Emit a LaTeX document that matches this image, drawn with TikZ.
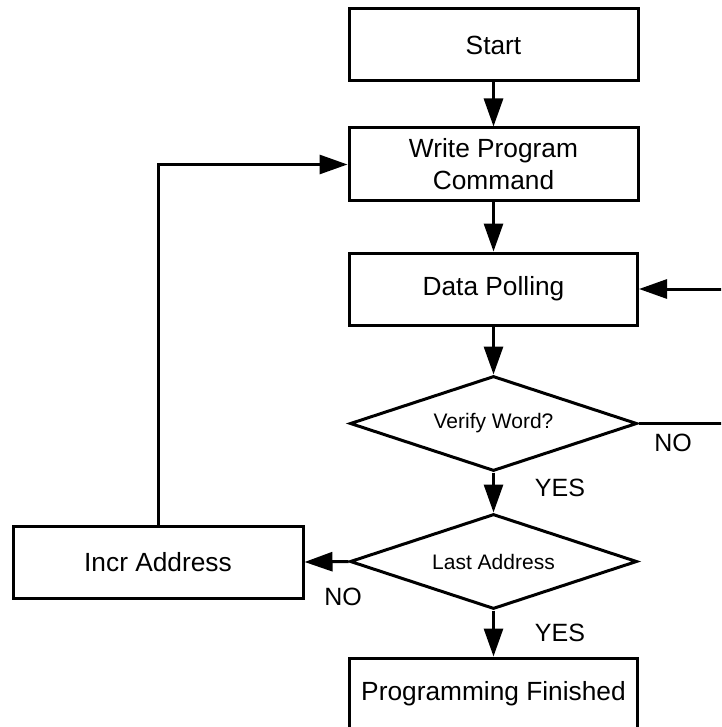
\documentclass[tikz,border=0pt]{standalone}
\usepackage{fontspec}
\setmainfont{Liberation Sans}
\usetikzlibrary{shapes.geometric,arrows.meta}
\begin{document}
\begin{tikzpicture}[x=1pt,y=-1pt,
  box/.style={draw,line width=3pt,rectangle,inner sep=0pt,font=\fontsize{26.3}{32}\selectfont,align=center},
  dia/.style={draw,line width=3pt,diamond,aspect=3,inner sep=0pt,minimum width=287pt,minimum height=95pt,font=\fontsize{21}{24}\selectfont},
  lbl/.style={font=\fontsize{25}{28}\selectfont,inner sep=0pt},
  conn/.style={line width=3pt,-{Triangle[length=28pt,width=19pt]}},
  plain/.style={line width=3pt}]
\useasboundingbox (0,0) rectangle (721,727);
\clip (0,0) rectangle (721,727);
\node[box,minimum width=289pt,minimum height=72pt] (start) at (493.5,45) {Start};
\node[box,minimum width=289pt,minimum height=73pt] (write) at (493.5,164.5) {Write Program\\Command};
\node[box,minimum width=288pt,minimum height=72pt] (poll) at (493.5,289) {Data Polling};
\node[dia] (verify) at (493.5,423.5) {Verify Word?};
\node[dia] (last) at (493.5,561.5) {Last Address};
\node[box,minimum width=290pt,minimum height=72pt] (incr) at (158,562) {Incr Address};
\node[box,minimum width=288pt,minimum height=72pt] (fin) at (493.5,694) {Programming Finished};
\coordinate (r1) at (740,289);
\coordinate (r2) at (740,423.5);
\draw[conn] (start) -- (write);
\draw[conn] (write) -- (poll);
\draw[conn] (poll) -- (verify);
\draw[conn] (verify) -- (last);
\draw[conn] (last) -- (fin);
\draw[conn] (last.west) -- (incr.east);
\draw[conn] (incr.north) |- (write.west);
\draw[plain] (verify.east) -- (r2);
\draw[conn] (r1) -- (poll.east);
\node[lbl] (no1) at (673,443) {NO};
\node[lbl] (yes1) at (560,488) {YES};
\node[lbl] (no2) at (343,597) {NO};
\node[lbl] (yes2) at (560,633) {YES};
\end{tikzpicture}
\end{document}
